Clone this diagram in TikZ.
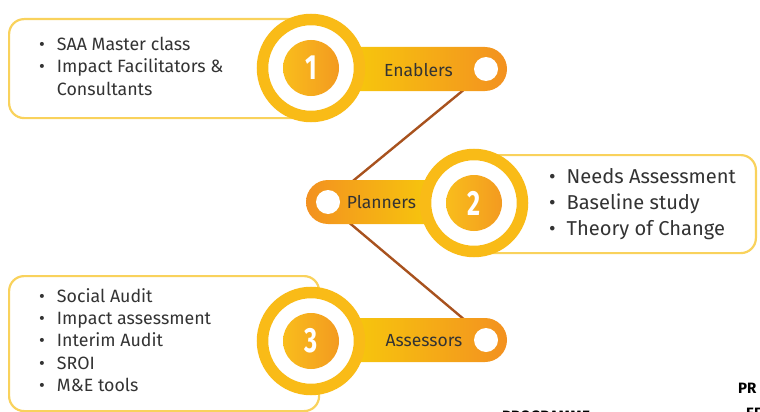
\documentclass[tikz,border=0pt]{standalone}
\usepackage{fontspec}
\setmainfont{Fira Sans}
\usetikzlibrary{shapes.misc,calc}
\definecolor{ring}{HTML}{F9BB17}
\definecolor{boxline}{HTML}{F9D25C}
\definecolor{tabY}{HTML}{F8D906}
\definecolor{tabO}{HTML}{F39120}
\definecolor{innerL}{HTML}{F9BD1C}
\definecolor{innerR}{HTML}{F39A20}
\definecolor{txt}{HTML}{333333}
\definecolor{link}{HTML}{A8521E}
\tikzset{
  infobox/.style={draw=boxline, line width=2.2pt, fill=white, rounded corners=15pt, inner sep=0pt},
  ringnode/.style={circle, draw=ring, line width=11.5pt, fill=white, minimum size=97pt, inner sep=0pt},
  innernode/.style={circle, left color=innerL, right color=innerR, minimum size=56pt, inner sep=0pt,
    text=white, font=\fontsize{35}{35}\selectfont\bfseries},
  tabnode/.style={rounded rectangle, minimum height=44pt, inner sep=0pt},
  hole/.style={circle, fill=white, minimum size=24pt, inner sep=0pt},
  tablabel/.style={text=txt, font=\fontsize{17.5}{17.5}\selectfont, inner sep=0pt},
  list/.style={text=txt, inner sep=0pt, anchor=west, align=left},
  linkline/.style={draw=link, line width=2.4pt},
  cut/.style={text=black, font=\fontsize{15}{15}\selectfont\bfseries, inner sep=0pt, anchor=base west}
}
\begin{document}
\begin{tikzpicture}[x=1pt,y=-1pt]
\useasboundingbox (0,0) rectangle (760,412);
% connectors (behind tabs)
\coordinate (l1a) at (466,88);
\coordinate (l1b) at (348,185);
\coordinate (l2a) at (346,220);
\coordinate (l2b) at (466,321);
\draw[linkline] (l1a) -- (l1b);
\draw[linkline] (l2a) -- (l2b);
% boxes
\node[infobox, minimum width=310pt, minimum height=99pt, anchor=north west] (b1) at (8,18) {};
\node[infobox, minimum width=290pt, minimum height=98pt, anchor=north east] (b2) at (757,154) {};
\node[infobox, minimum width=310pt, minimum height=135pt, anchor=north west] (b3) at (8,275) {};
% tabs
\node[tabnode, minimum width=207pt, left color=tabY, right color=tabO] (t1) at (403.5,69) {};
\node[tabnode, minimum width=170pt, left color=tabO, right color=tabY] (t2) at (391,202) {};
\node[tabnode, minimum width=207pt, left color=tabY, right color=tabO] (t3) at (403.5,340) {};
\node[hole] (h1) at (486,69) {};
\node[hole] (h2) at (328,202) {};
\node[hole] (h3) at (486,340) {};
\node[tablabel] (e1) at (418.5,70) {Enablers};
\node[tablabel] (e2) at (381.5,202) {Planners};
\node[tablabel] (e3) at (424,341) {Assessors};
% circles
\node[ringnode] (c1) at (311,68) {};
\node[ringnode] (c2) at (474,203) {};
\node[ringnode] (c3) at (311,341) {};
\node[innernode] (n1) at (c1) {\scalebox{0.72}[1]{1}};
\node[innernode] (n2) at (c2) {\scalebox{0.72}[1]{2}};
\node[innernode] (n3) at (c3) {\scalebox{0.72}[1]{3}};
% lists
\node[list, font=\fontsize{17.8}{22.5}\selectfont] (x1) at (39,68.5) {%
\begin{tabular}{@{}l@{\hspace{12pt}}l@{}}
\textbullet & SAA Master class\\
\textbullet & Impact Facilitators \&\\
 & Consultants
\end{tabular}};
\node[list, font=\fontsize{20.1}{26}\selectfont] (x2) at (549,204) {%
\begin{tabular}{@{}l@{\hspace{11pt}}l@{}}
\textbullet & Needs Assessment\\
\textbullet & Baseline study\\
\textbullet & Theory of Change
\end{tabular}};
\node[list, font=\fontsize{17.8}{22.3}\selectfont] (x3) at (39,342.5) {%
\begin{tabular}{@{}l@{\hspace{12pt}}l@{}}
\textbullet & Social Audit\\
\textbullet & Impact assessment\\
\textbullet & Interim Audit\\
\textbullet & SROI\\
\textbullet & M\&E tools
\end{tabular}};
% clipped texts at the bottom right
\node[cut] (p1) at (738,393) {PR};
\node[cut] (p2) at (502,421) {PROGRAMME};
\node[cut] (p3) at (746,418) {EF};
\end{tikzpicture}
\end{document}
